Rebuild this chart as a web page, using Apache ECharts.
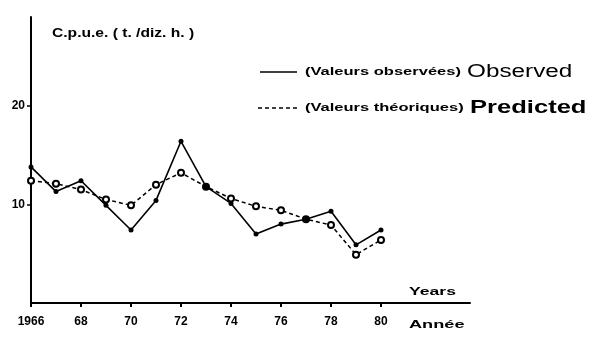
<!DOCTYPE html>
<html><head><meta charset="utf-8">
<script src="https://cdn.jsdelivr.net/npm/echarts@6/dist/echarts.min.js"></script>
<style>html,body{margin:0;padding:0;background:#fff}#c{width:600px;height:363px}</style>
</head><body><div id="c"></div>
<script>
const years = [1966,1967,1968,1969,1970,1971,1972,1973,1974,1975,1976,1977,1978,1979,1980];
const observed = [13.8,11.3,12.4,9.9,7.4,10.4,16.4,11.8,10.1,7.0,8.0,8.5,9.3,5.9,7.4];
const predicted = [12.4,12.1,11.5,10.5,9.9,12.0,13.2,11.8,10.6,9.8,9.4,8.5,7.9,4.9,6.4];
const xTicks = [1966,1968,1970,1972,1974,1976,1978,1980];
const xTickLabels = ['1966','68','70','72','74','76','78','80'];
const yTicks = [10,20];

const chart = echarts.init(document.getElementById('c'));
const F = 'Liberation Sans';
function txt(x, yc, s, font, sx){
  return {type:'text',x:x,y:yc,scaleX:sx,
    style:{text:s,font:font,fill:'#000',verticalAlign:'middle',align:'left'}};
}
chart.setOption({
  animation:false,
  backgroundColor:'#fff',
  grid:{left:31,right:130,top:17,bottom:60},
  xAxis:{type:'value',min:1966,max:1983.56,interval:2,
    axisLine:{lineStyle:{color:'#000',width:2}},
    axisTick:{show:true,customValues:xTicks,length:4,lineStyle:{color:'#000',width:2}},
    axisLabel:{customValues:xTicks,formatter:v=>xTickLabels[xTicks.indexOf(v)]||'',
      color:'#000',fontFamily:F,fontWeight:'bold',fontSize:12,margin:13},
    splitLine:{show:false}},
  yAxis:{type:'value',min:0,max:29,interval:10,
    axisLine:{show:true,lineStyle:{color:'#000',width:2}},
    axisTick:{show:true,customValues:yTicks,length:4,lineStyle:{color:'#000',width:1.5}},
    axisLabel:{customValues:yTicks,color:'#000',fontFamily:F,fontWeight:'bold',fontSize:12,margin:6},
    splitLine:{show:false}},
  series:[
    {name:'Observed',type:'line',data:years.map((y,i)=>[y,observed[i]]),
      symbol:'circle',symbolSize:5,itemStyle:{color:'#000'},
      lineStyle:{color:'#000',width:1.6},z:3},
    {name:'Predicted',type:'line',data:years.map((y,i)=>[y,predicted[i]]),
      symbol:'emptyCircle',symbolSize:6,itemStyle:{color:'#000',borderWidth:1.5},
      lineStyle:{color:'#000',width:1.5,type:[4,3]},z:2}
  ],
  graphic:[
    txt(52,34,'C.p.u.e. ( t. /diz. h. )','bold 12px '+F,1.3),
    {type:'line',shape:{x1:260,y1:72,x2:297,y2:72},style:{stroke:'#000',lineWidth:1.6}},
    {type:'line',shape:{x1:258,y1:108,x2:297,y2:108},style:{stroke:'#000',lineWidth:1.5,lineDash:[4,3]}},
    txt(305,72,'(Valeurs observées)','bold 11px '+F,1.5),
    txt(467,72,'Observed','18px '+F,1.35),
    txt(305,108,'(Valeurs théoriques)','bold 11px '+F,1.5),
    txt(470,108,'Predicted','bold 18px '+F,1.42),
    txt(409,292,'Years','bold 11px '+F,1.6),
    txt(409,325,'Année','bold 11px '+F,1.65)
  ]
});
</script></body></html>
